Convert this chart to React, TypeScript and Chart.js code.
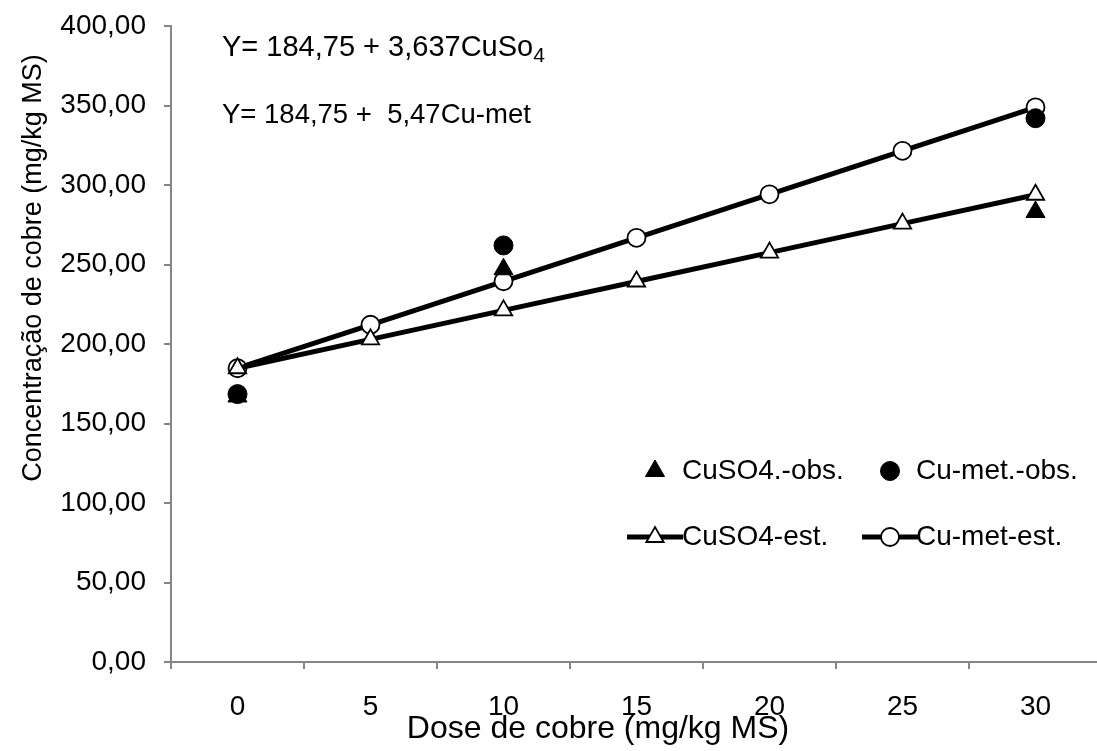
import React, { useEffect, useRef } from 'react';
import { Chart, registerables } from 'chart.js';
import { drawPoint } from 'chart.js/helpers';

Chart.register(...registerables);

// ---------- data ----------
const doses = [0, 5, 10, 15, 20, 25, 30];
const obsDoses = [0, 10, 30];
const cuso4Obs = [167, 247, 283];
const cumetObs = [168.5, 262, 342];
const cuso4Est = [184.75, 202.94, 221.12, 239.31, 257.49, 275.68, 293.86];
const cumetEst = [184.75, 212.1, 239.45, 266.8, 294.15, 321.5, 348.85];
const yTicks = [0, 50, 100, 150, 200, 250, 300, 350, 400];
const seriesLabels = ['CuSO4.-obs.', 'Cu-met.-obs.', 'CuSO4-est.', 'Cu-met-est.'];
const equationMain = ['Y= 184,75 + 3,637CuSo', 'Y= 184,75 +  5,47Cu-met'];
const equationSub = ['4', ''];
const xTitle = 'Dose de cobre (mg/kg MS)';
const yTitle = 'Concentração de cobre (mg/kg MS)';

// ---------- style / layout ----------
const FONT = '"Liberation Sans", Arial, Helvetica, sans-serif';
const FS = 28;
const AXIS = '#868686';
const W = 1097;
const H = 751;
const LEFT = 171;
const TOP = 26;
const BOTTOM_H = 89;
const PX_PER_UNIT = 26.6;
const LINE_W = 5;

const eqFont = [29, 27.5];
const eqBaseline = [56, 123];

const legendPos = [
  { mx: 655, my: 471, tx: 682 },
  { mx: 890, my: 471, tx: 916 },
  { mx: 655, my: 537, tx: 682 },
  { mx: 890, my: 537, tx: 916 },
];

const overlay = {
  id: 'overlay',
  afterDraw(chart: any) {
    const ctx = chart.ctx as CanvasRenderingContext2D;
    ctx.save();
    ctx.fillStyle = '#000';
    ctx.textBaseline = 'alphabetic';
    ctx.textAlign = 'left';
    // equations
    equationMain.forEach((t, i) => {
      ctx.font = `${eqFont[i]}px ${FONT}`;
      ctx.fillText(t, 222, eqBaseline[i]);
      if (equationSub[i]) {
        const w = ctx.measureText(t).width;
        ctx.font = `21px ${FONT}`;
        ctx.fillText(equationSub[i], 222 + w, eqBaseline[i] + 6);
      }
    });
    // axis titles
    ctx.textAlign = 'center';
    ctx.textBaseline = 'middle';
    ctx.font = `32px ${FONT}`;
    ctx.fillText(xTitle, 598, 729);
    ctx.save();
    ctx.translate(34, 268);
    ctx.rotate(-Math.PI / 2);
    ctx.font = `27px ${FONT}`;
    ctx.fillText(yTitle, 0, 0);
    ctx.restore();
    // legend
    ctx.textAlign = 'left';
    chart.data.datasets.forEach((ds: any, i: number) => {
      const p = legendPos[i];
      if (ds.showLine !== false) {
        ctx.strokeStyle = ds.borderColor;
        ctx.lineWidth = ds.borderWidth;
        ctx.beginPath();
        ctx.moveTo(p.mx - 28, p.my);
        ctx.lineTo(p.mx + 28, p.my);
        ctx.stroke();
      }
      ctx.fillStyle = ds.pointBackgroundColor;
      ctx.strokeStyle = ds.pointBorderColor;
      ctx.lineWidth = ds.pointBorderWidth;
      drawPoint(ctx, { pointStyle: ds.pointStyle, radius: ds.pointRadius, borderWidth: ds.pointBorderWidth, rotation: 0 } as any, p.mx, p.my);
      ctx.fillStyle = '#000';
      ctx.font = `${FS}px ${FONT}`;
      ctx.fillText(ds.label, p.tx, p.my);
    });
    ctx.restore();
  },
};

export default function App() {
  const ref = useRef<HTMLCanvasElement>(null);
  useEffect(() => {
    if (!ref.current) return;
    const xTickVals: number[] = [];
    doses.forEach((d) => { xTickVals.push(d - 2.5); xTickVals.push(d); });
    const chart = new Chart(ref.current, {
      type: 'line',
      data: {
        datasets: [
          {
            label: seriesLabels[0],
            data: obsDoses.map((d, i) => ({ x: d, y: cuso4Obs[i] })),
            showLine: false,
            pointStyle: 'triangle',
            pointRadius: 11,
            pointBackgroundColor: '#000',
            pointBorderColor: '#000',
            pointBorderWidth: 1,
            borderColor: '#000',
            borderWidth: 0,
          },
          {
            label: seriesLabels[1],
            data: obsDoses.map((d, i) => ({ x: d, y: cumetObs[i] })),
            showLine: false,
            pointStyle: 'circle',
            pointRadius: 9.5,
            pointBackgroundColor: '#000',
            pointBorderColor: '#000',
            pointBorderWidth: 1,
            borderColor: '#000',
            borderWidth: 0,
          },
          {
            label: seriesLabels[2],
            data: doses.map((d, i) => ({ x: d, y: cuso4Est[i] })),
            pointStyle: 'triangle',
            pointRadius: 10,
            pointBackgroundColor: '#fff',
            pointBorderColor: '#000',
            pointBorderWidth: 1.8,
            borderColor: '#000',
            borderWidth: LINE_W,
          },
          {
            label: seriesLabels[3],
            data: doses.map((d, i) => ({ x: d, y: cumetEst[i] })),
            pointStyle: 'circle',
            pointRadius: 9,
            pointBackgroundColor: '#fff',
            pointBorderColor: '#000',
            pointBorderWidth: 1.8,
            borderColor: '#000',
            borderWidth: LINE_W,
          },
        ],
      },
      options: {
        responsive: false,
        animation: false,
        layout: { autoPadding: false, padding: { top: TOP, right: 0, left: 0, bottom: 0 } },
        plugins: { legend: { display: false }, tooltip: { enabled: false } },
        scales: {
          x: {
            type: 'linear',
            min: -2.5,
            max: -2.5 + (W - LEFT) / PX_PER_UNIT,
            afterBuildTicks: (s: any) => { s.ticks = xTickVals.map((v) => ({ value: v })); },
            afterFit: (s: any) => { s.height = BOTTOM_H; s.paddingLeft = 0; s.paddingRight = 0; },
            ticks: {
              autoSkip: false,
              maxRotation: 0,
              minRotation: 0,
              padding: 21,
              color: '#000',
              font: { family: FONT, size: FS },
              callback: (v: any) => (doses.includes(Number(v)) ? String(v) : ''),
            },
            grid: {
              drawOnChartArea: false,
              drawTicks: true,
              tickLength: 7,
              lineWidth: 2,
              tickColor: (c: any) => (c.tick && doses.includes(c.tick.value) ? 'rgba(0,0,0,0)' : AXIS),
            },
            border: { color: AXIS, width: 2 },
          },
          y: {
            min: 0,
            max: 400,
            afterBuildTicks: (s: any) => { s.ticks = yTicks.map((v) => ({ value: v })); },
            afterFit: (s: any) => { s.width = LEFT; s.paddingTop = 0; s.paddingBottom = 0; },
            ticks: {
              padding: 18,
              color: '#000',
              font: { family: FONT, size: FS },
              callback: (v: any) => Number(v).toFixed(2).replace('.', ','),
            },
            grid: { drawOnChartArea: false, drawTicks: true, tickLength: 7, lineWidth: 2, tickColor: AXIS },
            border: { color: AXIS, width: 2 },
          },
        },
      },
      plugins: [overlay],
    } as any);
    return () => chart.destroy();
  }, []);
  return (
    <div style={{ position: 'fixed', left: 0, top: 0, width: W, height: H, background: '#fff' }}>
      <canvas ref={ref} width={W} height={H} style={{ display: 'block' }} />
    </div>
  );
}
